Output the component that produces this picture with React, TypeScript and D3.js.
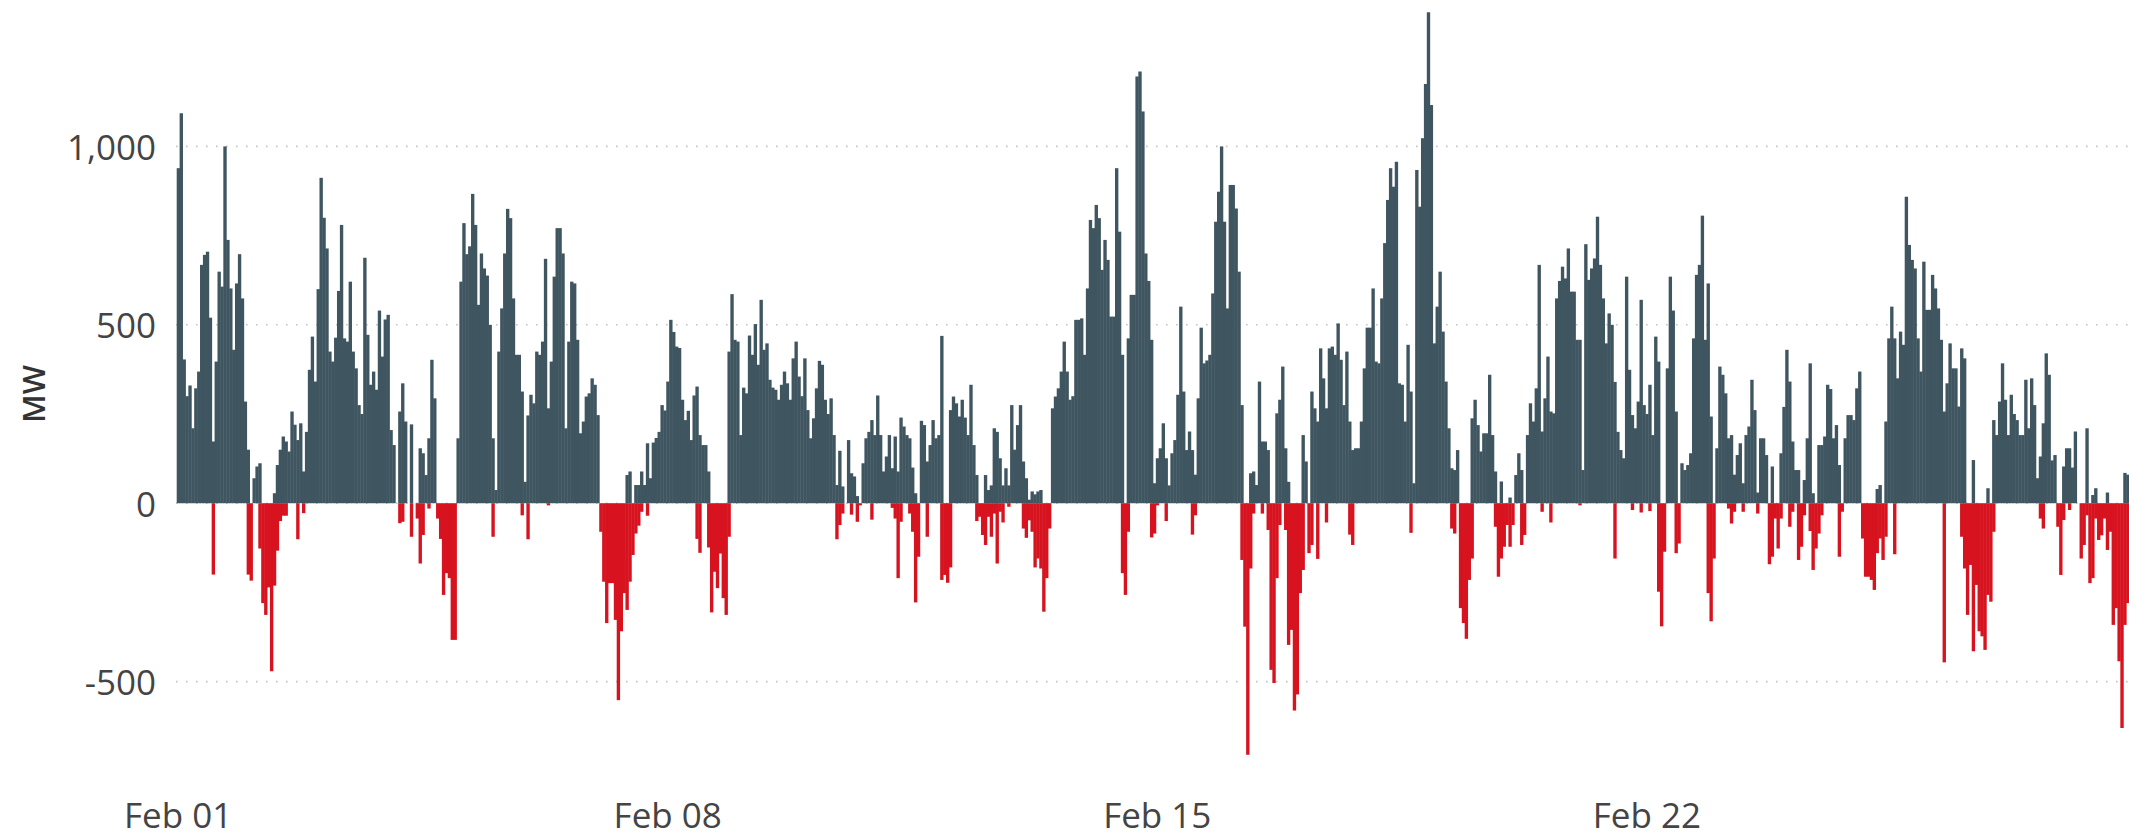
import React from "react";
import * as d3 from "d3";

// Hourly values (MW), Feb 01 00:00 onwards. Upward (positive) series, one array per week.
const upWeek1 = [
  939, 1093, 403, 300, 330, 210, 322, 369, 668, 696, 705, 520, 173, 397, 649, 607, 1000, 738, 602, 430, 616, 698, 574, 285,
  150, 0, 70, 103, 112, 0, 0, 0, 0, 28, 107, 150, 187, 173, 145, 257, 220, 177, 224, 89, 200, 374, 467, 341,
  600, 912, 800, 714, 425, 397, 464, 595, 780, 462, 453, 621, 425, 378, 275, 250, 688, 472, 332, 369, 318, 540, 411, 515,
  528, 205, 163, 0, 257, 336, 229, 0, 221, 0, 0, 154, 140, 79, 182, 402, 294, 0, 0, 0, 0, 0, 0, 0,
  182, 621, 785, 698, 720, 867, 780, 556, 700, 658, 638, 500, 182, 37, 425, 546, 700, 825, 799, 574, 416, 416, 313, 60,
  246, 304, 280, 425, 416, 453, 685, 266, 397, 635, 771, 771, 700, 210, 453, 621, 616, 458, 196, 229, 299, 308, 350, 332,
  247, 0, 0, 0, 0, 0, 0, 0, 0, 0, 79, 89, 0, 51, 51, 89, 51, 168, 70, 170, 183, 200, 275, 260,
];
const upWeek2 = [
  341, 514, 480, 439, 435, 290, 233, 259, 177, 302, 327, 191, 163, 163, 89, 0, 0, 0, 0, 0, 0, 425, 586, 458,
  453, 191, 324, 308, 470, 416, 502, 388, 570, 430, 448, 346, 324, 318, 290, 332, 369, 336, 290, 406, 453, 355, 300, 406,
  261, 182, 238, 322, 399, 388, 290, 250, 294, 191, 51, 147, 47, 0, 177, 84, 75, 20, 0, 112, 182, 200, 233, 191,
  302, 191, 89, 131, 191, 98, 187, 89, 240, 215, 191, 182, 100, 28, 0, 231, 219, 117, 163, 233, 182, 191, 469, 0,
  0, 261, 299, 280, 243, 290, 240, 191, 332, 163, 79, 0, 0, 79, 37, 50, 210, 200, 126, 50, 98, 50, 275, 150,
  219, 275, 117, 70, 10, 33, 25, 33, 37, 0, 0, 0, 266, 299, 322, 369, 453, 369, 290, 300, 514, 514, 518, 416,
  602, 794, 771, 836, 799, 654, 738, 682, 523, 523, 939, 761, 416, 0, 462, 584, 584, 1196, 1210, 1098, 700, 623, 458, 56,
];
const upWeek3 = [
  126, 154, 224, 126, 50, 140, 177, 304, 551, 313, 149, 201, 149, 80, 294, 492, 392, 400, 416, 588, 789, 873, 1000, 789,
  546, 892, 892, 826, 649, 275, 0, 0, 84, 89, 51, 341, 173, 173, 149, 0, 0, 252, 290, 383, 154, 60, 0, 0,
  0, 0, 191, 117, 0, 313, 266, 229, 434, 350, 266, 434, 439, 416, 504, 402, 275, 425, 229, 149, 154, 154, 229, 378,
  492, 492, 602, 397, 392, 574, 729, 850, 939, 887, 957, 336, 332, 229, 444, 313, 56, 934, 831, 1023, 1175, 1376, 1116, 448,
  551, 649, 481, 341, 210, 98, 93, 149, 0, 0, 0, 0, 238, 290, 219, 145, 196, 196, 360, 191, 89, 0, 61, 0,
  0, 16, 0, 79, 140, 93, 0, 191, 280, 229, 322, 668, 201, 294, 411, 257, 252, 574, 623, 663, 630, 714, 593, 593,
  458, 458, 93, 726, 626, 658, 686, 803, 668, 574, 448, 532, 500, 340, 200, 149, 126, 635, 374, 247, 210, 285, 570, 275,
];
const upWeek4 = [
  250, 332, 191, 467, 397, 0, 0, 378, 635, 540, 257, 0, 112, 93, 107, 140, 462, 640, 668, 806, 458, 616, 243, 0,
  154, 383, 360, 308, 182, 191, 80, 135, 168, 56, 191, 215, 346, 261, 30, 182, 182, 135, 0, 103, 0, 0, 140, 270,
  430, 341, 173, 93, 93, 0, 65, 182, 392, 28, 0, 163, 163, 187, 332, 320, 182, 219, 107, 0, 182, 247, 247, 233,
  322, 369, 0, 0, 0, 0, 0, 40, 51, 0, 229, 462, 551, 462, 350, 481, 444, 859, 724, 682, 658, 462, 369, 677,
  542, 542, 640, 602, 546, 458, 257, 336, 448, 378, 378, 271, 434, 406, 0, 0, 121, 0, 0, 0, 0, 42, 0, 233,
  191, 285, 392, 290, 191, 304, 250, 233, 191, 191, 346, 210, 350, 275, 70, 131, 224, 420, 360, 120, 135, 0, 0, 103,
  154, 154, 100, 201, 0, 0, 0, 210, 0, 23, 42, 0, 0, 0, 30, 0, 0, 0, 0, 0, 85, 80, 0, 0,
];

// Downward (negative) series, one array per week.
const downWeek1 = [
  0, 0, 0, 0, 0, 0, 0, 0, 0, 0, 0, 0, -200, 0, 0, 0, 0, 0, 0, 0, 0, 0, 0, 0,
  -200, -217, 0, 0, -127, -280, -313, -236, -471, -231, -133, -50, -35, -35, 0, 0, 0, -101, 0, -28, 0, 0, 0, 0,
  0, 0, 0, 0, 0, 0, 0, 0, 0, 0, 0, 0, 0, 0, 0, 0, 0, 0, 0, 0, 0, 0, 0, 0,
  0, 0, 0, 0, -56, -52, 0, 0, -94, 0, -43, -169, -89, 0, -15, 0, 0, -43, -100, -257, -196, -210, -383, -383,
  0, 0, 0, 0, 0, 0, 0, 0, 0, 0, 0, 0, -94, 0, 0, 0, 0, 0, 0, 0, 0, 0, -34, 0,
  -101, 0, 0, 0, 0, 0, 0, -6, 0, 0, 0, 0, 0, 0, 0, 0, 0, 0, 0, 0, 0, 0, 0, 0,
  0, -80, -220, -336, -224, -224, -327, -552, -359, -252, -299, -220, -145, -85, -63, -24, 0, -35, 0, 0, 0, 0, 0, 0,
];
const downWeek2 = [
  0, 0, 0, 0, 0, 0, 0, 0, 0, 0, -100, -139, 0, 0, -124, -306, -192, -238, -141, -266, -313, -94, 0, 0,
  0, 0, 0, 0, 0, 0, 0, 0, 0, 0, 0, 0, 0, 0, 0, 0, 0, 0, 0, 0, 0, 0, 0, 0,
  0, 0, 0, 0, 0, 0, 0, 0, 0, 0, -101, -61, -29, 0, 0, -32, 0, -52, -6, 0, 0, 0, -46, 0,
  0, 0, 0, 0, 0, -13, -43, -210, -52, 0, 0, -29, -80, -278, -150, 0, 0, -94, 0, 0, 0, 0, -215, -201,
  -223, -180, 0, 0, 0, 0, 0, 0, 0, 0, -50, -38, -89, -117, -38, -94, -29, -169, -24, -54, 0, -10, 0, 0,
  0, 0, -71, -97, -48, -80, -180, -155, -183, -304, -210, -71, 0, 0, 0, 0, 0, 0, 0, 0, 0, 0, 0, 0,
  0, 0, 0, 0, 0, 0, 0, 0, 0, 0, 0, 0, -196, -257, -80, 0, 0, 0, 0, 0, 0, 0, -96, -85,
];
const downWeek3 = [
  -6, 0, 0, -50, 0, 0, 0, 0, 0, 0, 0, 0, -88, -34, 0, 0, 0, 0, 0, 0, 0, 0, 0, 0,
  0, 0, 0, 0, 0, -159, -346, -705, -183, -29, 0, 0, -29, 0, -75, -467, -504, -210, -61, 0, -75, -397, -355, -581,
  -536, -252, -187, 0, -140, -117, 0, -156, 0, 0, -54, 0, 0, 0, 0, 0, 0, 0, -88, -117, 0, 0, 0, 0,
  0, 0, 0, 0, 0, 0, 0, 0, 0, 0, 0, 0, 0, 0, 0, -83, 0, 0, 0, 0, 0, 0, 0, 0,
  0, 0, 0, 0, 0, -71, -85, 0, -294, -336, -380, -215, -155, 0, 0, 0, 0, 0, 0, 0, -66, -206, -155, -122,
  -61, -122, -61, 0, 0, -117, -89, 0, 0, 0, 0, 0, -24, 0, 0, -54, 0, 0, 0, 0, 0, 0, 0, 0,
  0, -6, 0, 0, 0, 0, 0, 0, 0, 0, 0, 0, 0, -155, 0, 0, 0, 0, 0, -19, 0, 0, -26, 0,
];
const downWeek4 = [
  0, -22, 0, 0, -248, -345, -136, 0, 0, 0, -140, -113, 0, 0, 0, 0, 0, 0, 0, 0, 0, -252, -331, -155,
  0, 0, 0, 0, -15, -57, -24, 0, 0, -24, 0, 0, 0, 0, -29, 0, 0, 0, -171, -150, -43, -127, -43, 0,
  0, -66, -24, 0, -159, -122, -34, 0, -78, -187, -127, -85, -34, 0, 0, 0, 0, 0, -150, -24, 0, 0, 0, 0,
  0, 0, -99, -206, -206, -215, -243, -140, -99, -159, -94, 0, 0, -143, 0, 0, 0, 0, 0, 0, 0, 0, 0, 0,
  0, 0, 0, 0, 0, 0, -446, 0, 0, 0, 0, 0, -94, -183, -313, -173, -415, -229, -359, -373, -411, -257, -276, -80,
  0, 0, 0, 0, 0, 0, 0, 0, 0, 0, 0, 0, 0, 0, 0, -43, -71, 0, 0, 0, 0, -66, -201, -47,
  0, -19, 0, 0, 0, -155, -117, -34, -224, -210, -43, -103, -90, -43, -131, -80, -341, -294, -443, -630, -341, -280, -250, -200,
];

const yTicks = [-500, 0, 500, 1000];
const dateTicks = ["2023-02-01", "2023-02-08", "2023-02-15", "2023-02-22"];
const startDate = "2023-02-01T00:00:00Z";

const W = 2129;
const H = 839;

export default function App() {
  const up = [...upWeek1, ...upWeek2, ...upWeek3, ...upWeek4];
  const down = [...downWeek1, ...downWeek2, ...downWeek3, ...downWeek4];
  const t0 = new Date(startDate);
  const hours = up.length;
  const half = 30 * 60 * 1000;
  const x = d3
    .scaleUtc()
    .domain([new Date(+t0 - half), new Date(+d3.utcHour.offset(t0, hours) - half)])
    .range([176.7, 176.7 + hours * 2.914]);
  const y = d3.scaleLinear().domain([-820, 1400]).range([795.8, 3.7]);
  const times = d3.range(hours).map((i) => d3.utcHour.offset(t0, i));
  const bw = x(times[1]) - x(times[0]);
  const fmt = d3.formatLocale({ decimal: ".", thousands: ",", grouping: [3], currency: ["$", ""], minus: "-" }).format(",");
  const dfmt = d3.utcFormat("%b %d");
  const font = "'Open Sans', 'Noto Sans', sans-serif";

  return (
    <svg
      width={W}
      height={H}
      style={{ position: "absolute", left: 0, top: 0, background: "#fff" }}
    >
      <g>
        {yTicks.map((v) => (
          <line
            key={"g" + v}
            x1={176}
            x2={W}
            y1={y(v)}
            y2={y(v)}
            stroke="#c4c4c4"
            strokeWidth={1.6}
            strokeDasharray="1.6 8.4"
          />
        ))}
      </g>
      <g>
        {times.map((t, i) =>
          up[i] > 0 ? (
            <rect key={"u" + i} x={x(t) - bw / 2} y={y(up[i])} width={bw + 0.45} height={y(0) - y(up[i])} fill="#3f5661" />
          ) : null
        )}
        {times.map((t, i) =>
          down[i] < 0 ? (
            <rect key={"d" + i} x={x(t) - bw / 2} y={y(0)} width={bw + 0.45} height={y(down[i]) - y(0)} fill="#d7131f" />
          ) : null
        )}
      </g>
      <g fontFamily={font} fontSize={35} fill="#444">
        {yTicks.map((v) => (
          <text key={"t" + v} x={156} y={y(v)} textAnchor="end" dominantBaseline="central">
            {fmt(v)}
          </text>
        ))}
        {dateTicks.map((d) => {
          const dt = new Date(d + "T00:00:00Z");
          return (
            <text key={d} x={x(dt)} y={828} textAnchor="middle">
              {dfmt(dt)}
            </text>
          );
        })}
      </g>
      <text
        transform="translate(33,394) rotate(-90)"
        textAnchor="middle"
        dominantBaseline="central"
        fontFamily={font}
        fontSize={31}
        fontWeight={600}
        fill="#333"
      >
        MW
      </text>
    </svg>
  );
}
